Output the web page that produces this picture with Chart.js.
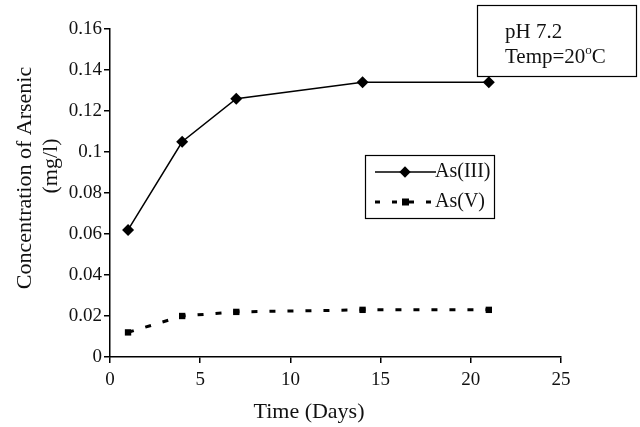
<!DOCTYPE html>
<html>
<head>
<meta charset="utf-8">
<script src="https://cdn.jsdelivr.net/npm/chart.js@4"></script>
<style>
  html, body { margin: 0; padding: 0; background: #fff; }
  #wrap { width: 640px; height: 427px; }
</style>
</head>
<body>
<div id="wrap"><canvas id="arsenicChart" width="640" height="427"></canvas></div>
<script>
// Values
const days = [1, 4, 7, 14, 21];
const as3 = [0.062, 0.105, 0.126, 0.134, 0.134];
const as5 = [0.012, 0.020, 0.022, 0.023, 0.023];
const yTickLabels = ['0', '0.02', '0.04', '0.06', '0.08', '0.1', '0.12', '0.14', '0.16'];
const seriesNames = ['As(III)', 'As(V)'];

const SERIF = '"Liberation Serif", "Times New Roman", serif';

const toPoints = (xs, ys) => xs.map((x, i) => ({ x: x, y: ys[i] }));

// Legend box, note box and axis titles are drawn by hand
const extras = {
    id: 'extras',
    afterDraw(chart) {
        const ctx = chart.ctx;
        ctx.save();

        // pH / temperature note
        ctx.strokeStyle = '#000';
        ctx.lineWidth = 1.2;
        ctx.strokeRect(477.5, 5.5, 159, 71);
        ctx.fillStyle = '#111';
        ctx.font = '21px ' + SERIF;
        ctx.textBaseline = 'alphabetic';
        ctx.textAlign = 'left';
        ctx.fillText('pH 7.2', 505, 38);
        const t = 'Temp=20';
        ctx.fillText(t, 505, 63);
        let w = ctx.measureText(t).width;
        ctx.font = '13px ' + SERIF;
        ctx.fillText('o', 505 + w, 54);
        let w2 = ctx.measureText('o').width;
        ctx.font = '21px ' + SERIF;
        ctx.fillText('C', 505 + w + w2, 63);

        // legend
        ctx.strokeRect(365.5, 155.5, 129, 63);
        ctx.lineWidth = 1.5;
        ctx.beginPath();
        ctx.moveTo(375, 172);
        ctx.lineTo(436, 172);
        ctx.stroke();
        ctx.save();
        ctx.translate(405, 172);
        ctx.rotate(Math.PI / 4);
        ctx.fillStyle = '#000';
        ctx.fillRect(-4, -4, 8, 8);
        ctx.restore();

        ctx.lineWidth = 3;
        ctx.setLineDash([5, 12]);
        ctx.beginPath();
        ctx.moveTo(375, 202);
        ctx.lineTo(436, 202);
        ctx.stroke();
        ctx.setLineDash([]);
        ctx.fillStyle = '#000';
        ctx.fillRect(402, 198.5, 7, 7);

        ctx.fillStyle = '#111';
        ctx.font = '20px ' + SERIF;
        ctx.textBaseline = 'middle';
        ctx.fillText(seriesNames[0], 435, 172);
        ctx.fillText(seriesNames[1], 435, 202);

        // axis titles
        ctx.font = '22px ' + SERIF;
        ctx.textAlign = 'center';
        ctx.fillText('Time (Days)', 309, 412);

        ctx.save();
        ctx.translate(25, 178);
        ctx.rotate(-Math.PI / 2);
        ctx.fillText('Concentration of Arsenic', 0, 0);
        ctx.restore();
        ctx.save();
        ctx.translate(51, 166);
        ctx.rotate(-Math.PI / 2);
        ctx.fillText('(mg/l)', 0, 0);
        ctx.restore();

        ctx.restore();
    }
};

new Chart(document.getElementById('arsenicChart').getContext('2d'), {
    type: 'scatter',
    data: {
        datasets: [{
            label: seriesNames[0],
            data: toPoints(days, as3),
            showLine: true,
            borderColor: '#000',
            backgroundColor: '#000',
            borderWidth: 1.5,
            pointStyle: 'rectRot',
            pointRadius: 6,
            pointBorderWidth: 0
        }, {
            label: seriesNames[1],
            data: toPoints(days, as5),
            showLine: true,
            borderColor: '#000',
            backgroundColor: '#000',
            borderWidth: 3,
            borderDash: [6, 12],
            pointStyle: 'rect',
            pointRadius: 4.5,
            pointBorderWidth: 0
        }]
    },
    options: {
        responsive: false,
        animation: false,
        layout: { padding: { left: 0, right: 79, top: 29, bottom: 0 } },
        plugins: { legend: { display: false }, tooltip: { enabled: false } },
        scales: {
            x: {
                type: 'linear',
                min: 0,
                max: 25,
                ticks: { stepSize: 5, color: '#111', padding: 6, font: { family: SERIF, size: 19 } },
                grid: { drawOnChartArea: false, color: '#000', lineWidth: 1.5, tickLength: 6 },
                border: { color: '#000', width: 1.5 },
                afterFit(scale) { scale.height = 70; }
            },
            y: {
                min: 0,
                max: 0.16,
                ticks: {
                    stepSize: 0.02,
                    color: '#111',
                    padding: 2,
                    font: { family: SERIF, size: 19 },
                    callback: (v, i) => yTickLabels[i]
                },
                grid: { drawOnChartArea: false, color: '#000', lineWidth: 1.5, tickLength: 6 },
                border: { color: '#000', width: 1.5 },
                afterFit(scale) { scale.width = 110; }
            }
        }
    },
    plugins: [extras]
});
</script>
</body>
</html>
